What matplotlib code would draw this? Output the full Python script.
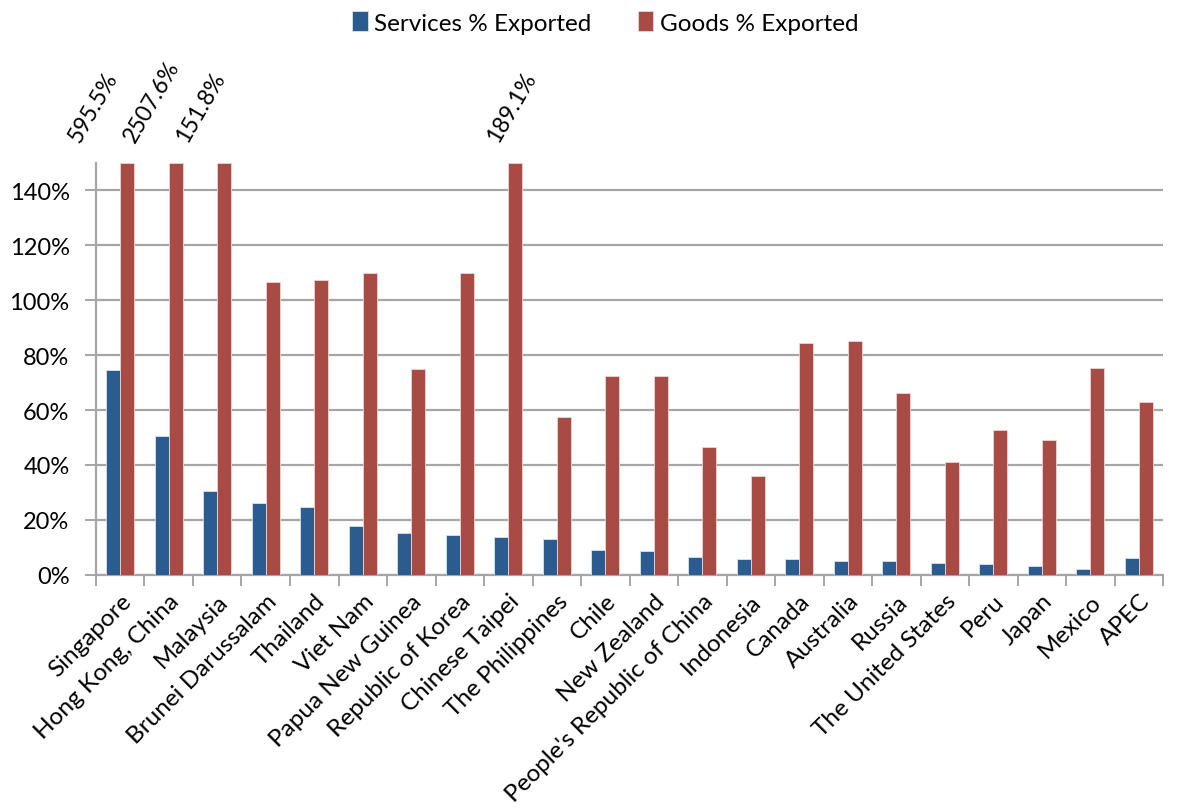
import numpy as np
import matplotlib
matplotlib.use("Agg")
import matplotlib.pyplot as plt
from matplotlib.ticker import FixedLocator, PercentFormatter

economies = [
    "Singapore", "Hong Kong, China", "Malaysia", "Brunei Darussalam", "Thailand",
    "Viet Nam", "Papua New Guinea", "Republic of Korea", "Chinese Taipei",
    "The Philippines", "Chile", "New Zealand", "People's Republic of China",
    "Indonesia", "Canada", "Australia", "Russia", "The United States", "Peru",
    "Japan", "Mexico", "APEC",
]
services_pct = [74.6, 50.7, 30.4, 26.2, 24.6, 17.9, 15.1, 14.5, 13.8, 12.9, 9.0,
                8.6, 6.5, 5.8, 5.8, 5.1, 4.9, 4.3, 3.9, 3.3, 2.0, 6.1]
goods_pct = [595.5, 2507.6, 151.8, 106.5, 107.3, 110.0, 75.0, 110.0, 189.1, 57.4,
             72.4, 72.4, 46.6, 35.8, 84.6, 85.2, 66.3, 41.1, 52.9, 49.2, 75.3, 62.9]
y_ticks = [0, 20, 40, 60, 80, 100, 120, 140]
y_max = 150

BLUE = "#2A5C8F"
RED = "#A94B45"
GRID = "#A6A6A6"

plt.rcParams["font.family"] = ["Lato", "DejaVu Sans"]

fig = plt.figure(figsize=(11.82, 8.12), dpi=100)
ax = fig.add_axes([0.0812, 0.291, 0.9028, 0.507])

x = np.arange(len(economies))
w = 0.29
ax.bar(x - w / 2, services_pct, width=w, color=BLUE, edgecolor="#d9e2ee",
       linewidth=0.6, label="Services % Exported", zorder=3)
ax.bar(x + w / 2, np.minimum(goods_pct, y_max), width=w, color=RED,
       edgecolor="#ecd6d4", linewidth=0.6, label="Goods % Exported", zorder=3)

# Values beyond the axis limit are written above the clipped bars
label_shift = {0: -0.69, 1: -0.50, 2: -0.49, 8: -0.07}
for i, v in enumerate(goods_pct):
    if v > y_max:
        ax.text(x[i] + w / 2 + label_shift.get(i, 0.0), 156.5, f"{v:.1f}%",
                rotation=60, ha="center", va="bottom", fontsize=16.5,
                clip_on=False)

ax.set_xlim(-0.5, len(economies) - 0.5)
ax.set_ylim(0, y_max)
ax.yaxis.set_major_locator(FixedLocator(y_ticks))
ax.yaxis.set_major_formatter(PercentFormatter(decimals=0))
ax.grid(axis="y", color=GRID, linewidth=1.6, zorder=0)
ax.set_axisbelow(True)

ax.set_xticks(x)
ax.set_xticklabels(economies, rotation=45, ha="right", rotation_mode="anchor",
                   fontsize=17.5)
ax.tick_params(axis="x", which="major", length=0, pad=11)
ax.set_xticks(np.arange(-0.5, len(economies), 1.0), minor=True)
ax.tick_params(axis="x", which="minor", length=8, width=1.4, color=GRID,
               direction="out")
ax.tick_params(axis="y", length=8, width=1.4, color=GRID, labelsize=17, pad=11)

for side in ("top", "right"):
    ax.spines[side].set_visible(False)
for side in ("left", "bottom"):
    ax.spines[side].set_color(GRID)
    ax.spines[side].set_linewidth(1.6)

fig.legend(loc="upper center", bbox_to_anchor=(0.512, 1.012), ncol=2,
           frameon=False, fontsize=17.5, handlelength=0.65, handleheight=0.9,
           handletextpad=0.25, columnspacing=1.9)

fig.savefig("out.png", dpi=100)
